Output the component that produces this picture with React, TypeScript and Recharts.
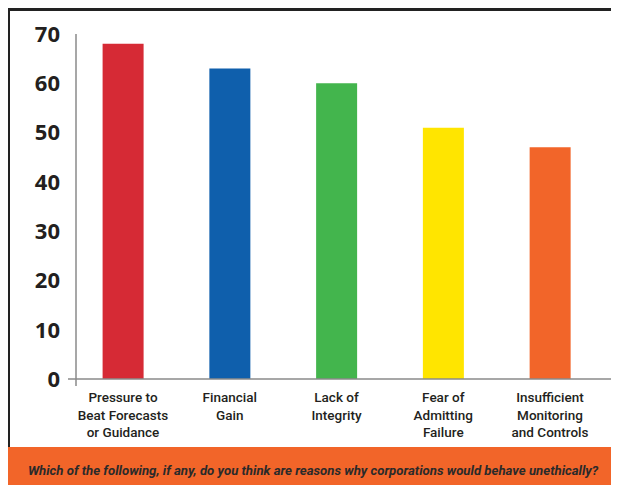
import { BarChart, Bar, XAxis, YAxis, Cell } from "recharts";

const categories = [
  "Pressure to\nBeat Forecasts\nor Guidance",
  "Financial\nGain",
  "Lack of\nIntegrity",
  "Fear of\nAdmitting\nFailure",
  "Insufficient\nMonitoring\nand Controls",
];
const values = [68, 63, 60, 51, 47];
const colors = ["#d62a35", "#0f5fac", "#43b54d", "#ffe500", "#f26529"];
const yTicks = [0, 10, 20, 30, 40, 50, 60, 70];
const question =
  "Which of the following, if any, do you think are reasons why corporations would behave unethically?";

const data = categories.map((name, i) => ({ name, value: values[i] }));

const FONT = "Roboto, 'Open Sans', sans-serif";

// multi-line category labels
const CategoryTick = ({ x, y, payload }: any) => {
  const lines = String(payload.value).split("\n");
  return (
    <text x={x} y={y} textAnchor="middle" fontFamily={FONT} fontSize={13.5} fontWeight={500} fill="#231f20">
      {lines.map((l, i) => (
        <tspan key={i} x={x} dy={i === 0 ? 23 : 17.5}>
          {l}
        </tspan>
      ))}
    </text>
  );
};

const ValueTick = ({ x, y, payload }: any) => (
  <g>
    {payload.value === 0 && (
      <>
        <line x1={x - 8} y1={y} x2={x} y2={y} stroke="#8a8a8a" strokeWidth={1.5} />
        <line x1={x} y1={y} x2={x} y2={y + 7} stroke="#8a8a8a" strokeWidth={1.5} />
      </>
    )}
    <text x={x - 16} y={y} dy="0.36em" textAnchor="end" fontFamily="'Open Sans', sans-serif" fontSize={22} fontWeight={700} fill="#231f20">
      {payload.value}
    </text>
  </g>
);

export default function App() {
  return (
    <div style={{ position: "relative", width: 619, height: 493, margin: -8, overflow: "hidden", background: "#fff" }}>
      <div
        style={{
          position: "absolute",
          left: 7,
          top: 8,
          width: 700,
          height: 439,
          borderTop: "3px solid #222",
          borderLeft: "3px solid #222",
          boxSizing: "border-box",
        }}
      />
      <div style={{ position: "absolute", left: 0, top: 0 }}>
        <BarChart width={619} height={447} data={data} margin={{ top: 34, right: 2, bottom: 8, left: 1 }}>
          <XAxis
            dataKey="name"
            interval={0}
            height={60}
            tickSize={0}
            tickMargin={0}
            tickLine={false}
            axisLine={{ stroke: "#8a8a8a", strokeWidth: 1.5 }}
            padding={{ left: -6.4, right: 13.6 }}
            tick={<CategoryTick />}
          />
          <YAxis
            width={75}
            domain={[0, 70]}
            ticks={yTicks}
            interval={0}
            tickSize={0}
            tickMargin={0}
            tickLine={false}
            axisLine={{ stroke: "#8a8a8a", strokeWidth: 1.5 }}
            tick={<ValueTick />}
          />
          <Bar dataKey="value" barSize={41} isAnimationActive={false}>
            {data.map((d, i) => (
              <Cell key={d.name} fill={colors[i]} />
            ))}
          </Bar>
        </BarChart>
      </div>
      <div
        style={{
          position: "absolute",
          left: 7,
          top: 447,
          width: 612,
          height: 46,
          background: "#f26529",
          display: "flex",
          alignItems: "center",
          justifyContent: "center",
          fontFamily: FONT,
          fontStyle: "italic",
          fontWeight: 700,
          fontSize: 13.2,
          color: "#2a2a2a",
          whiteSpace: "nowrap",
        }}
      >
        {question}
      </div>
    </div>
  );
}
